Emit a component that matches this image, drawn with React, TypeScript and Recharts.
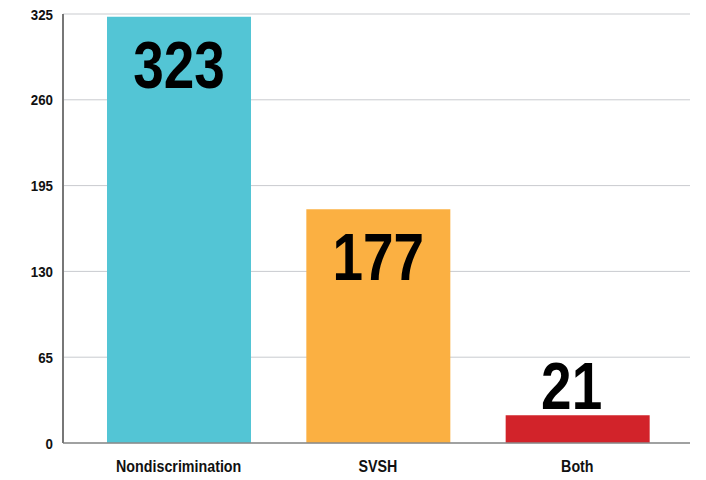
import { BarChart, Bar, XAxis, YAxis, CartesianGrid, Cell, LabelList } from "recharts";

const categories = ["Nondiscrimination", "SVSH", "Both"];
const counts = [323, 177, 21];
const barColors = ["#53C5D5", "#FBB042", "#D2232A"];
const yTicks = [0, 65, 130, 195, 260, 325];

// no narrow font installed, so squeeze Liberation Sans sideways
const FONT = "'Liberation Sans', Arial, sans-serif";

const data = categories.map((name, i) => ({ name, count: counts[i] }));

function ValueLabel(props: any) {
  const { x, y, width, height, value } = props;
  const inside = height > 90;
  const ty = inside ? y + 71 : y - 6;
  const tx = inside ? x + width / 2 : x + width / 2 - 6;
  return (
    <g transform={`translate(${tx},${ty})`}>
      <text
        transform="scale(0.82,1)"
        textAnchor="middle"
        fontFamily={FONT}
        fontWeight="bold"
        fontSize={67}
        fill="#000"
      >
        {value}
      </text>
    </g>
  );
}

function XTick(props: any) {
  const { x, y, payload } = props;
  return (
    <g transform={`translate(${x},${y})`}>
      <text
        transform="scale(0.84,1)"
        textAnchor="middle"
        dy="0.71em"
        fontFamily={FONT}
        fontWeight="bold"
        fontSize={17}
        fill="#111"
      >
        {payload.value}
      </text>
    </g>
  );
}

function YTick(props: any) {
  const { x, y, payload } = props;
  return (
    <g transform={`translate(${x},${y})`}>
      <text
        transform="scale(0.86,1)"
        textAnchor="end"
        dy="0.36em"
        fontFamily={FONT}
        fontWeight="bold"
        fontSize={15.5}
        fill="#111"
      >
        {payload.value}
      </text>
    </g>
  );
}

export default function App() {
  return (
    <div style={{ position: "absolute", left: 0, top: 0, width: 706, height: 480, background: "#fff" }}>
      <BarChart
        width={706}
        height={480}
        data={data}
        margin={{ top: 14, right: 16, bottom: 0, left: 0 }}
      >
        <CartesianGrid vertical={false} stroke="#c9cbcf" strokeWidth={1} />
        <XAxis
          dataKey="name"
          height={37}
          padding={{ left: 16, right: 13 }}
          axisLine={{ stroke: "#8a8a8a", strokeWidth: 1.5 }}
          tickLine={false}
          tickSize={0}
          tickMargin={17}
          tick={<XTick />}
        />
        <YAxis
          width={63}
          domain={[0, 325]}
          ticks={yTicks}
          interval={0}
          axisLine={{ stroke: "#777", strokeWidth: 2 }}
          tickLine={false}
          tickSize={0}
          tickMargin={10}
          tick={<YTick />}
        />
        <Bar dataKey="count" barSize={144} isAnimationActive={false}>
          {data.map((d, i) => (
            <Cell key={d.name} fill={barColors[i]} />
          ))}
          <LabelList dataKey="count" content={ValueLabel} />
        </Bar>
      </BarChart>
    </div>
  );
}
